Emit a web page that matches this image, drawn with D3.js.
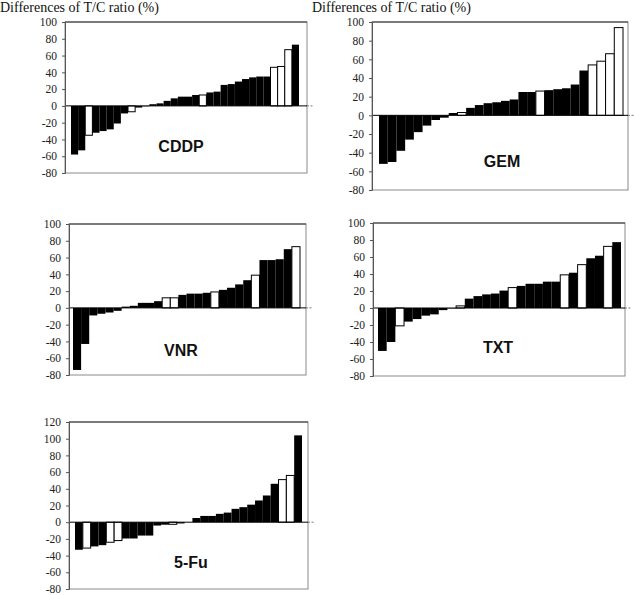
<!DOCTYPE html>
<html>
<head>
<meta charset="utf-8">
<script src="https://cdn.jsdelivr.net/npm/d3@7"></script>
<style>
  body { margin: 0; background: #fff; }
  svg { display: block; }
  .title { font-family: "Liberation Serif", serif; font-size: 14px; fill: #111; }
  .drug { font-family: "Liberation Sans", Arial, sans-serif; font-weight: bold; font-size: 16px; fill: #111; }
</style>
</head>
<body>
<svg id="chart" width="634" height="595"></svg>
<script>
// values (sorted waterfall, % difference of T/C ratio)
var cddpValues = [-58,-53,-35,-32,-30,-28,-21,-9,-7,-2,-0.5,2,3,6,9,11,11,13,13,16,17,25,26,29,32,34,35,35,46,47,67,73]
var cddpWhite = [2,8,18,28,29,30]

var gemValues = [-52,-50,-38,-26,-18,-11,-5,-2.5,2.5,3,8,11,13,14,15.5,17,25,25,26,27,28,29,33,48,54,58,66,94]
var gemWhite = [9,18,24,25,26,27]

var vnrValues = [-74,-43,-9,-7,-5.5,-3.5,1.5,2.5,6,6,8,12,12,15.5,17,17,18,19,21.5,24,28,33,39,57,57,58,70,73]
var vnrWhite = [11,12,17,22,27]

var txtValues = [-50.5,-40,-21,-16,-13,-9,-7.5,-2.5,-0.5,2.5,11,14,16,17,20.5,24,26,28.5,28.5,31,31,39,41.5,51,58.5,61.5,72.5,77.5]
var txtWhite = [2,9,15,21,23,26]

var fuValues = [-33,-31,-29,-27.5,-24,-22,-19.5,-19.5,-16,-16,-4,-3,-2.5,-1.5,0,5,7.5,7.5,10,11.5,16,18,21,26,32,46,51,56,104]
var fuWhite = [1,4,5,12,26,27]

var ticksTo100 = [-80,-60,-40,-20,0,20,40,60,80,100]
var ticksTo120 = [-80,-60,-40,-20,0,20,40,60,80,100,120]

var titleText = "Differences of T/C ratio (%)"

var svg = d3.select("#chart")

var drawPanel = function(p) {
    var g = svg.append("g")

    var yScale = d3.scaleLinear()
        .domain([-80, p.ticks[p.ticks.length-1]])
        .range([p.bottom, p.top])

    var xScale = d3.scaleBand()
        .domain(d3.range(p.values.length))
        .range([p.barLeft, p.barRight])
        .paddingInner(0)

    // frame
    g.append("rect")
        .attr("x", p.left)
        .attr("y", p.top)
        .attr("width", p.right - p.left)
        .attr("height", p.bottom - p.top)
        .attr("fill", "none")
        .attr("stroke", "#8a8a8a")
        .attr("stroke-width", 1)

    g.append("line")
        .attr("x1", p.left).attr("x2", p.right)
        .attr("y1", p.top).attr("y2", p.top)
        .attr("stroke", "#333")

    // bars
    g.selectAll("rect.bar")
        .data(p.values)
        .enter()
        .append("rect")
            .attr("class", "bar")
            .attr("x", function(d,i){ return xScale(i) })
            .attr("width", xScale.bandwidth())
            .attr("y", function(d){ return yScale(Math.max(0, d)) })
            .attr("height", function(d){ return Math.abs(yScale(d) - yScale(0)) })
            .attr("fill", function(d,i){ return p.white.indexOf(i) >= 0 ? "#fff" : "#000" })
            .attr("stroke", function(d,i){ return p.white.indexOf(i) >= 0 ? "#000" : "none" })
            .attr("stroke-width", 1)

    // zero line, running a little past the frame
    g.append("line")
        .attr("x1", p.left).attr("x2", p.right)
        .attr("y1", yScale(0)).attr("y2", yScale(0))
        .attr("stroke", "#000")
    g.append("line")
        .attr("x1", p.right).attr("x2", p.right + 6)
        .attr("y1", yScale(0)).attr("y2", yScale(0))
        .attr("stroke", "#777")
        .attr("stroke-dasharray", "2,1.5")

    // y axis
    var yAxis = d3.axisLeft(yScale)
        .tickValues(p.ticks)
        .tickSize(3)
        .tickPadding(5)
        .tickFormat(function(d){ return String(d) })

    var ax = g.append("g")
        .attr("transform", "translate(" + p.left + ",0)")
        .call(yAxis)
    ax.attr("font-family", "Liberation Serif")
      .attr("font-size", 11.5)
    ax.select(".domain").attr("stroke", "#555")
    ax.selectAll(".tick line").attr("stroke", "#555")
    ax.selectAll(".tick text").attr("fill", "#222")

    g.append("text")
        .attr("class", "drug")
        .attr("text-anchor", "middle")
        .attr("x", p.labelX)
        .attr("y", p.labelY)
        .text(p.name)
}

var panels = [
    {name:"CDDP", values:cddpValues, white:cddpWhite, ticks:ticksTo100,
     left:65, right:307, top:22, bottom:173, barLeft:71, barRight:299, labelX:181, labelY:152},
    {name:"GEM", values:gemValues, white:gemWhite, ticks:ticksTo100,
     left:372, right:628, top:22, bottom:190, barLeft:379, barRight:623, labelX:502, labelY:167},
    {name:"VNR", values:vnrValues, white:vnrWhite, ticks:ticksTo100,
     left:69, right:306, top:224, bottom:375, barLeft:73, barRight:300, labelX:181, labelY:356},
    {name:"TXT", values:txtValues, white:txtWhite, ticks:ticksTo100,
     left:373, right:625, top:223, bottom:376, barLeft:378, barRight:621, labelX:498, labelY:353},
    {name:"5-Fu", values:fuValues, white:fuWhite, ticks:ticksTo120,
     left:69, right:308, top:422, bottom:589, barLeft:75, barRight:302, labelX:191, labelY:568}
]

panels.forEach(drawPanel)

svg.append("text").attr("class", "title").attr("x", 0).attr("y", 12).text(titleText)
svg.append("text").attr("class", "title").attr("x", 312).attr("y", 12).text(titleText)
</script>
</body>
</html>
